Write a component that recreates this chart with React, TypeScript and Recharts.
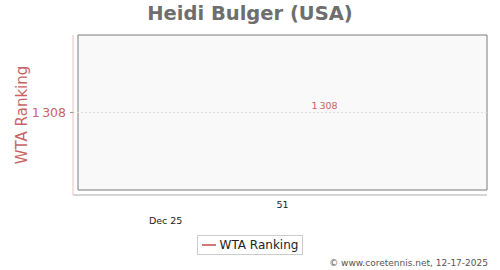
import React from "react";
import {
  LineChart,
  Line,
  XAxis,
  YAxis,
  ReferenceArea,
  ReferenceLine,
  Legend,
  Label,
  LabelList,
} from "recharts";

// weekly ranking points
const weekDates = ["2025-12-15"];
const weekLabels = ["51"];
const wtaRanking = [1308];
// month labels under the weeks
const monthDates = ["2025-12-01"];
const monthLabels = ["Dec 25"];
const rankTicks = [1308];

const DAY = 86400000;
const toTime = (d: string) => new Date(d + "T00:00:00Z").getTime();

const data = weekDates.map((d, i) => ({ t: toTime(d), week: weekLabels[i], rank: wtaRanking[i] }));
const weekTicks = data.map((d) => d.t);
const monthTicks = monthDates.map(toTime);
const xDomain = [weekTicks[0] - 24.5 * DAY, weekTicks[0] + 24.5 * DAY];
const yDomain = [rankTicks[0] - 1, rankTicks[0] + 1];

const FONT = "DejaVu Sans";
const RED = "#c86464";

const fmt = (v: number) => String(v).replace(/\B(?=(\d{3})+(?!\d))/g, "\u2009");

const PointLabel = (props: any) => {
  const { x, y, value } = props;
  return (
    <text x={x + 42} y={y - 4} textAnchor="middle" fill={RED} fontSize={9.5} fontFamily={FONT}>
      {fmt(value)}
    </text>
  );
};

const NoDot = (props: any) => <g key={props.key ?? props.index} />;

const LegendBox = () => (
  <div style={{ display: "flex", justifyContent: "center" }}>
    <div
      style={{
        border: "1px solid #cccccc",
        background: "#fff",
        display: "flex",
        alignItems: "center",
        padding: "2px 4px 2px 4px",
        fontFamily: FONT,
        fontSize: 12,
        color: "#222",
      }}
    >
      <span style={{ display: "inline-block", width: 14, height: 2, background: "#d07a7a", marginRight: 4 }} />
      WTA Ranking
    </div>
  </div>
);

export default function App() {
  return (
    <div style={{ position: "absolute", left: 0, top: 0, width: 500, height: 270, background: "#fff" }}>
      <div
        style={{
          position: "absolute",
          top: 2,
          width: 500,
          textAlign: "center",
          fontFamily: FONT,
          fontWeight: "bold",
          fontSize: 19.5,
          color: "#6e6e6e",
        }}
      >
        Heidi Bulger (USA)
      </div>
      <LineChart
        width={500}
        height={270}
        data={data}
        margin={{ top: 35, right: 13, bottom: 43, left: 0 }}
        style={{ fontFamily: FONT }}
      >
        <XAxis
          dataKey="t"
          type="number"
          scale="time"
          domain={xDomain}
          ticks={weekTicks}
          tickFormatter={(t: number) => data.find((d) => d.t === t)?.week ?? ""}
          padding={{ left: 5, right: 0 }}
          height={16}
          stroke="#aaaaaa"
          tickLine={false}
          tickSize={6}
          tickMargin={0}
          tick={{ fill: "#222", fontSize: 9.5 }}
          allowDataOverflow
        />
        <XAxis
          xAxisId="month"
          dataKey="t"
          type="number"
          scale="time"
          domain={xDomain}
          ticks={monthTicks}
          tickFormatter={(t: number) => monthLabels[monthTicks.indexOf(t)] ?? ""}
          padding={{ left: 5, right: 0 }}
          height={16}
          axisLine={false}
          tickLine={false}
          tickSize={6}
          tickMargin={0}
          tick={{ fill: "#222", fontSize: 9.5 }}
          allowDataOverflow
        />
        <YAxis
          dataKey="rank"
          domain={yDomain}
          ticks={rankTicks}
          tickFormatter={fmt}
          width={73}
          padding={{ top: 0, bottom: 5 }}
          axisLine={{ stroke: "#e8c0c0" }}
          tickLine={{ stroke: "#999" }}
          tickSize={3}
          tickMargin={4}
          tick={{ fill: RED, fontSize: 12.5 }}
        >
          <Label
            value="WTA Ranking"
            angle={-90}
            position="insideLeft"
            offset={22}
            style={{ fill: RED, fontSize: 15, textAnchor: "middle" }}
          />
        </YAxis>
        <ReferenceArea y1={yDomain[0]} y2={yDomain[1]} fill="#f9f9f9" fillOpacity={1} stroke="#7a7a7a" strokeWidth={1} />
        <ReferenceLine y={rankTicks[0]} stroke="#dddddd" strokeDasharray="2 2" />
        <Legend verticalAlign="middle" wrapperStyle={{ top: 235, left: 0, width: 500 }} content={<LegendBox />} />
        <Line
          dataKey="rank"
          stroke="#d07a7a"
          strokeWidth={2}
          dot={NoDot}
          activeDot={false}
          isAnimationActive={false}
        >
          <LabelList dataKey="rank" content={<PointLabel />} />
        </Line>
      </LineChart>
      <div
        style={{
          position: "absolute",
          right: 12,
          top: 258,
          fontFamily: FONT,
          fontSize: 9,
          color: "#555",
        }}
      >
        © www.coretennis.net, 12-17-2025
      </div>
    </div>
  );
}
